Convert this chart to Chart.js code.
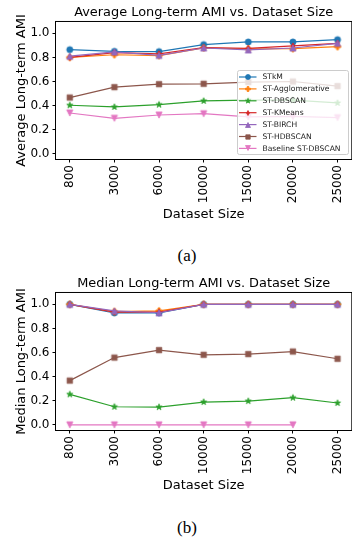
<!DOCTYPE html>
<html><head><meta charset="utf-8">
<script src="https://cdn.jsdelivr.net/npm/chart.js@4.4.0/dist/chart.umd.min.js"></script>
<style>
html,body{margin:0;padding:0;background:#fff;width:352px;height:539px;overflow:hidden;position:relative;}
.wrap{position:absolute;left:0;width:356px;height:226px;}
canvas{display:block;}
.cap{position:absolute;left:0;width:374px;text-align:center;font-family:"Liberation Serif","DejaVu Serif",serif;font-size:17px;line-height:16px;color:#000;}
</style></head>
<body>
<div class="wrap" style="top:0px"><canvas id="c1" width="356" height="226"></canvas></div>
<div class="cap" style="top:248px">(a)</div>
<div class="wrap" style="top:271px"><canvas id="c2" width="356" height="226"></canvas></div>
<div class="cap" style="top:520px">(b)</div>
<script>
// ---- data ----
const categories = ['800','3000','6000','10000','15000','20000','25000'];
const seriesNames = ['STkM','ST-Agglomerative','ST-DBSCAN','ST-KMeans','ST-BIRCH','ST-HDBSCAN','Baseline ST-DBSCAN'];
const yTicks = [0.0, 0.2, 0.4, 0.6, 0.8, 1.0];

// (a) Average Long-term AMI
const avgSTkM     = [0.864, 0.850, 0.848, 0.906, 0.928, 0.928, 0.947];
const avgAgglo    = [0.800, 0.822, 0.815, 0.878, 0.870, 0.872, 0.889];
const avgDBSCAN   = [0.403, 0.389, 0.408, 0.439, 0.445, 0.445, 0.422];
const avgKMeans   = [0.800, 0.840, 0.830, 0.882, 0.875, 0.895, 0.917];
const avgBIRCH    = [0.810, 0.845, 0.817, 0.878, 0.862, 0.878, 0.917];
const avgHDBSCAN  = [0.467, 0.553, 0.578, 0.581, 0.595, 0.600, 0.562];
const avgBaseline = [0.339, 0.295, 0.322, 0.333, 0.306, 0.310, 0.300];

// (b) Median Long-term AMI
const medSTkM     = [1.000, 0.928, 0.928, 1.000, 1.000, 1.000, 1.000];
const medAgglo    = [1.000, 0.940, 0.945, 1.000, 1.000, 1.000, 1.000];
const medDBSCAN   = [0.253, 0.150, 0.147, 0.189, 0.197, 0.225, 0.181];
const medKMeans   = [1.000, 0.935, 0.935, 1.000, 1.000, 1.000, 1.000];
const medBIRCH    = [1.000, 0.945, 0.930, 1.000, 1.000, 1.000, 1.000];
const medHDBSCAN  = [0.367, 0.558, 0.620, 0.581, 0.587, 0.608, 0.548];
const medBaseline = [0.000, 0.000, 0.000, 0.000, 0.000, 0.000, null];

// ---- styles ----
const colors = ['#1f77b4','#ff7f0e','#2ca02c','#d62728','#9467bd','#8c564b','#e377c2'];
const shapes = ['o','P','*','d','^','s','v'];
const FONT = "'DejaVu Sans', sans-serif";

function makeMarker(shape, color, s){
  const size = Math.ceil(2*s + 3);
  const c = document.createElement('canvas');
  c.width = size; c.height = size;
  const g = c.getContext('2d');
  g.translate(size/2, size/2);
  g.fillStyle = color; g.strokeStyle = color; g.lineWidth = 0.8; g.lineJoin = 'miter';
  g.beginPath();
  if (shape === 'o') { g.arc(0,0,s,0,Math.PI*2); }
  else if (shape === 's') { const h = s*0.88; g.rect(-h,-h,2*h,2*h); }
  else if (shape === '^') { g.moveTo(0,-s); g.lineTo(s,s); g.lineTo(-s,s); g.closePath(); }
  else if (shape === 'v') { g.moveTo(0,s); g.lineTo(s,-s); g.lineTo(-s,-s); g.closePath(); }
  else if (shape === 'd') { g.moveTo(0,-s); g.lineTo(0.6*s,0); g.lineTo(0,s); g.lineTo(-0.6*s,0); g.closePath(); }
  else if (shape === 'P') {
    const a = s, t = s/3;
    g.moveTo(-t,-a); g.lineTo(t,-a); g.lineTo(t,-t); g.lineTo(a,-t); g.lineTo(a,t); g.lineTo(t,t);
    g.lineTo(t,a); g.lineTo(-t,a); g.lineTo(-t,t); g.lineTo(-a,t); g.lineTo(-a,-t); g.lineTo(-t,-t); g.closePath();
  }
  else if (shape === '*') {
    const ro = s*1.05, ri = ro*0.382;
    for (let k=0;k<10;k++){
      const r = k%2===0 ? ro : ri;
      const ang = -Math.PI/2 + k*Math.PI/5;
      const px = r*Math.cos(ang), py = r*Math.sin(ang);
      if (k===0) g.moveTo(px,py); else g.lineTo(px,py);
    }
    g.closePath();
  }
  g.fill(); g.stroke();
  return c;
}
const chartMarkers  = shapes.map((sh,i)=>makeMarker(sh, colors[i], 3.1));
const legendMarkers = shapes.map((sh,i)=>makeMarker(sh, colors[i], 2.5));

const framePlugin = {
  id: 'frame',
  afterDraw(chart){
    const a = chart.chartArea, ctx = chart.ctx;
    ctx.save();
    ctx.strokeStyle = '#000'; ctx.lineWidth = 1;
    ctx.strokeRect(a.left, a.top, a.right - a.left, a.bottom - a.top);
    ctx.restore();
  }
};

const boxLegend = {
  id: 'boxLegend',
  afterDatasetsDraw(chart, args, opts){
    if (!opts || !opts.show) return;
    const ctx = chart.ctx;
    const x0 = 237.5, y0 = 70.5, w = 111, h = 84;
    ctx.save();
    ctx.beginPath();
    if (ctx.roundRect) ctx.roundRect(x0, y0, w, h, 2); else ctx.rect(x0,y0,w,h);
    ctx.fillStyle = 'rgba(255,255,255,0.8)';
    ctx.fill();
    ctx.strokeStyle = '#cccccc'; ctx.lineWidth = 1; ctx.stroke();
    chart.data.datasets.forEach((ds, i) => {
      const yy = 77 + i*11.9;
      ctx.beginPath();
      ctx.strokeStyle = ds.borderColor; ctx.lineWidth = 1.2;
      ctx.moveTo(239, yy); ctx.lineTo(256.5, yy); ctx.stroke();
      const m = legendMarkers[i];
      ctx.drawImage(m, Math.round(247.7 - m.width/2), Math.round(yy - m.height/2));
      ctx.fillStyle = '#222';
      ctx.font = "7.6px " + FONT;
      ctx.textBaseline = 'middle';
      ctx.textAlign = 'left';
      ctx.fillText(ds.label, 262.5, yy + 0.5);
    });
    ctx.restore();
  }
};

function buildChart(id, titleText, yTitle, series, showLegend){
  const datasets = series.map((arr, i) => ({
    label: seriesNames[i],
    data: arr.map((v, k) => ({x: k, y: v})),
    borderColor: colors[i],
    backgroundColor: colors[i],
    borderWidth: 1.2,
    pointStyle: chartMarkers[i],
    pointRadius: 3,
    pointHoverRadius: 3,
    tension: 0,
    spanGaps: false,
    order: -i
  }));
  return new Chart(document.getElementById(id), {
    type: 'line',
    data: { datasets },
    plugins: [framePlugin, boxLegend],
    options: {
      responsive: false,
      animation: false,
      events: [],
      layout: { padding: { left: 0, right: 3, top: 0, bottom: 0 } },
      plugins: {
        legend: { display: false },
        tooltip: { enabled: false },
        boxLegend: { show: showLegend },
        title: {
          display: true, text: titleText, color: '#000', fullSize: false,
          font: { family: FONT, size: 12.9, weight: 'normal', lineHeight: 1.2 },
          padding: { top: 4.5, bottom: 1.5 }
        }
      },
      scales: {
        x: {
          type: 'linear', min: -0.32, max: 6.32,
          afterBuildTicks: ax => { ax.ticks = categories.map((c, k) => ({ value: k })); },
          afterFit: ax => { ax.height = 66.5; },
          ticks: {
            autoSkip: false, minRotation: 90, maxRotation: 90, padding: 2.5, color: '#000',
            font: { family: FONT, size: 12 },
            callback: v => categories[v]
          },
          grid: { display: true, drawOnChartArea: false, drawTicks: true, tickLength: 3, tickColor: '#000', tickWidth: 1 },
          border: { display: false },
          title: { display: true, text: 'Dataset Size', color: '#000',
                   font: { family: FONT, size: 13, lineHeight: 1.2 }, padding: { top: 0, bottom: 3.2 } }
        },
        y: {
          min: -0.047, max: 1.098,
          afterBuildTicks: ax => { ax.ticks = yTicks.map(v => ({ value: v })); },
          afterFit: ax => { ax.width = 55.5; },
          ticks: { padding: 3, color: '#000', font: { family: FONT, size: 12 }, callback: v => Number(v).toFixed(1) },
          grid: { display: true, drawOnChartArea: false, drawTicks: true, tickLength: 3, tickColor: '#000', tickWidth: 1 },
          border: { display: false },
          title: { display: true, text: yTitle, color: '#000',
                   font: { family: FONT, size: 13, lineHeight: 1.2 }, padding: { top: 14.2, bottom: 0 } }
        }
      }
    }
  });
}

buildChart('c1', 'Average Long-term AMI vs. Dataset Size', 'Average Long-term AMI',
  [avgSTkM, avgAgglo, avgDBSCAN, avgKMeans, avgBIRCH, avgHDBSCAN, avgBaseline], true);
buildChart('c2', 'Median Long-term AMI vs. Dataset Size', 'Median Long-term AMI',
  [medSTkM, medAgglo, medDBSCAN, medKMeans, medBIRCH, medHDBSCAN, medBaseline], false);
</script>
</body></html>
